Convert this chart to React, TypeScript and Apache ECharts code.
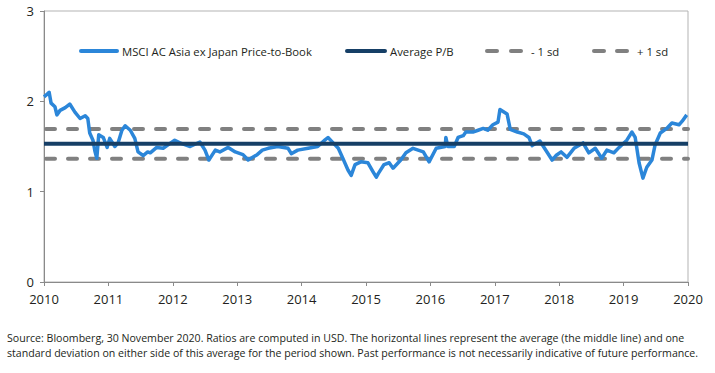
import React, { useEffect, useRef } from "react";
import * as echarts from "echarts";

// Decimal-year dates and MSCI AC Asia ex Japan price-to-book readings
const dates = [
  2010.0, 2010.05, 2010.08, 2010.11, 2010.17, 2010.2, 2010.25, 2010.33, 2010.4, 2010.48,
  2010.56, 2010.64, 2010.68, 2010.71, 2010.76, 2010.79, 2010.82, 2010.85, 2010.92, 2010.98,
  2011.02, 2011.1, 2011.15, 2011.21, 2011.26, 2011.34, 2011.41, 2011.46, 2011.54, 2011.61,
  2011.65, 2011.75, 2011.85, 2012.03, 2012.11, 2012.27, 2012.42, 2012.5, 2012.56, 2012.66,
  2012.73, 2012.86, 2012.97, 2013.09, 2013.17, 2013.31, 2013.39, 2013.48, 2013.63, 2013.79,
  2013.84, 2013.94, 2014.1, 2014.25, 2014.36, 2014.41, 2014.49, 2014.57, 2014.64, 2014.72,
  2014.77, 2014.83, 2014.92, 2015.03, 2015.11, 2015.16, 2015.19, 2015.28, 2015.36, 2015.42,
  2015.5, 2015.54, 2015.62, 2015.73, 2015.89, 2015.98, 2016.09, 2016.23, 2016.24, 2016.27,
  2016.37, 2016.43, 2016.51, 2016.55, 2016.66, 2016.74, 2016.82, 2016.89, 2016.97, 2017.05,
  2017.08, 2017.19, 2017.24, 2017.35, 2017.45, 2017.53, 2017.58, 2017.7, 2017.81, 2017.89,
  2017.95, 2018.03, 2018.12, 2018.23, 2018.37, 2018.46, 2018.56, 2018.66, 2018.74, 2018.85,
  2018.93, 2019.05, 2019.13, 2019.18, 2019.24, 2019.3, 2019.36, 2019.44, 2019.49, 2019.57,
  2019.67, 2019.75, 2019.86, 2019.91, 2019.98,
];
const pbValues = [
  2.05, 2.08, 2.1, 1.98, 1.94, 1.85, 1.9, 1.93, 1.97, 1.88,
  1.81, 1.84, 1.81, 1.65, 1.57, 1.45, 1.37, 1.63, 1.6, 1.49,
  1.59, 1.5, 1.54, 1.68, 1.73, 1.68, 1.59, 1.44, 1.4, 1.44,
  1.43, 1.49, 1.48, 1.57, 1.54, 1.5, 1.55, 1.46, 1.35, 1.46,
  1.44, 1.49, 1.44, 1.41, 1.35, 1.41, 1.46, 1.48, 1.5, 1.48,
  1.42, 1.46, 1.48, 1.5, 1.57, 1.6, 1.54, 1.48, 1.37, 1.24,
  1.18, 1.3, 1.33, 1.32, 1.22, 1.16, 1.2, 1.3, 1.32, 1.26,
  1.32, 1.35, 1.43, 1.48, 1.44, 1.33, 1.48, 1.5, 1.6, 1.5,
  1.5, 1.6, 1.62, 1.66, 1.66, 1.68, 1.7, 1.68, 1.74, 1.77,
  1.91, 1.86, 1.69, 1.66, 1.64, 1.6, 1.51, 1.56, 1.44, 1.35,
  1.4, 1.44, 1.38, 1.48, 1.54, 1.43, 1.48, 1.37, 1.46, 1.43,
  1.49, 1.57, 1.66, 1.6, 1.32, 1.15, 1.27, 1.35, 1.52, 1.65,
  1.7, 1.76, 1.74, 1.78, 1.85,
];

const averagePB = 1.53;
const minusOneSd = 1.365;
const plusOneSd = 1.695;
const xRange = [2010, 2020];
const yTicks = [0, 1, 2, 3];

const seriesNames = [
  "MSCI AC Asia ex Japan Price-to-Book",
  "Average P/B",
  "- 1 sd",
  "+ 1 sd",
];
const sourceLines = [
  "Source: Bloomberg, 30 November 2020. Ratios are computed in USD. The horizontal lines represent the average (the middle line) and one",
  "standard deviation on either side of this average for the period shown. Past performance is not necessarily indicative of future performance.",
];

const FONT = "'Open Sans', sans-serif";
const BLUE = "#2b86d9";
const NAVY = "#163f66";
const GREY = "#808080";
const TEXT = "#231f20";

export default function App() {
  const ref = useRef<HTMLDivElement>(null);

  useEffect(() => {
    const chart = echarts.init(ref.current!, null, { renderer: "svg" });
    const flat = (v: number) => [
      [xRange[0], v],
      [xRange[1], v],
    ];
    const dashStyle = {
      color: GREY,
      width: 4,
      type: [9, 13] as number[],
      cap: "round" as const,
      dashOffset: -2,
    };
    const legendY = 51;
    const legendFont = `11.3px ${FONT}`;
    const sourceFont = `10.6px ${FONT}`;
    const option: any = {
      animation: false,
      textStyle: { fontFamily: FONT },
      grid: {
        left: 44,
        right: 27,
        top: 11,
        bottom: 91,
        show: true,
        borderColor: "#b3b3b3",
        borderWidth: 1,
      },
      xAxis: {
        type: "value",
        min: xRange[0],
        max: xRange[1],
        interval: 1,
        axisLine: { lineStyle: { color: "#8a8a8a", width: 1 } },
        axisTick: { show: true, length: 4, lineStyle: { color: "#8a8a8a" } },
        splitLine: { show: false },
        axisLabel: {
          color: TEXT,
          fontSize: 13,
          lineHeight: 13,
          fontFamily: FONT,
          margin: 10,
          formatter: (v: number) => String(Math.round(v)),
        },
      },
      yAxis: {
        type: "value",
        min: yTicks[0],
        max: yTicks[yTicks.length - 1],
        interval: 1,
        axisLine: { show: true, lineStyle: { color: "#8a8a8a", width: 1 } },
        axisTick: { show: true, length: 4, lineStyle: { color: "#8a8a8a" } },
        splitLine: { show: false },
        axisLabel: { color: TEXT, fontSize: 13, lineHeight: 13, fontFamily: FONT, margin: 10 },
      },
      series: [
        {
          name: seriesNames[2],
          type: "line",
          data: flat(minusOneSd),
          symbol: "none",
          lineStyle: dashStyle,
          z: 1,
        },
        {
          name: seriesNames[3],
          type: "line",
          data: flat(plusOneSd),
          symbol: "none",
          lineStyle: dashStyle,
          z: 1,
        },
        {
          name: seriesNames[0],
          type: "line",
          data: dates.map((d, i) => [d, pbValues[i]]),
          symbol: "none",
          lineStyle: { color: BLUE, width: 3.5, join: "round" },
          z: 2,
        },
        {
          name: seriesNames[1],
          type: "line",
          data: flat(averagePB),
          symbol: "none",
          lineStyle: { color: NAVY, width: 4 },
          z: 3,
        },
      ],
      graphic: [
        {
          type: "line",
          shape: { x1: 81, y1: legendY, x2: 117, y2: legendY },
          style: { stroke: BLUE, lineWidth: 4, lineCap: "round" },
        },
        {
          type: "text",
          x: 122,
          y: legendY,
          style: { text: seriesNames[0], fill: TEXT, font: legendFont, verticalAlign: "middle" },
        },
        {
          type: "line",
          shape: { x1: 347, y1: legendY, x2: 385, y2: legendY },
          style: { stroke: NAVY, lineWidth: 4, lineCap: "round" },
        },
        {
          type: "text",
          x: 390,
          y: legendY,
          style: { text: seriesNames[1], fill: TEXT, font: legendFont, verticalAlign: "middle" },
        },
        {
          type: "line",
          shape: { x1: 487, y1: legendY, x2: 497, y2: legendY },
          style: { stroke: GREY, lineWidth: 4, lineCap: "round" },
        },
        {
          type: "line",
          shape: { x1: 511, y1: legendY, x2: 521, y2: legendY },
          style: { stroke: GREY, lineWidth: 4, lineCap: "round" },
        },
        {
          type: "text",
          x: 531,
          y: legendY,
          style: { text: seriesNames[2], fill: TEXT, font: legendFont, verticalAlign: "middle" },
        },
        {
          type: "line",
          shape: { x1: 594, y1: legendY, x2: 604, y2: legendY },
          style: { stroke: GREY, lineWidth: 4, lineCap: "round" },
        },
        {
          type: "line",
          shape: { x1: 617, y1: legendY, x2: 627, y2: legendY },
          style: { stroke: GREY, lineWidth: 4, lineCap: "round" },
        },
        {
          type: "text",
          x: 637,
          y: legendY,
          style: { text: seriesNames[3], fill: TEXT, font: legendFont, verticalAlign: "middle" },
        },
        {
          type: "text",
          x: 7,
          y: 338,
          style: { text: sourceLines[0], fill: TEXT, font: sourceFont, verticalAlign: "middle" },
        },
        {
          type: "text",
          x: 7,
          y: 353,
          style: { text: sourceLines[1], fill: TEXT, font: sourceFont, verticalAlign: "middle" },
        },
      ],
    };
    chart.setOption(option);
    return () => chart.dispose();
  }, []);

  return (
    <div
      ref={ref}
      style={{ position: "fixed", left: 0, top: 0, width: 715, height: 373, background: "#fff" }}
    />
  );
}
